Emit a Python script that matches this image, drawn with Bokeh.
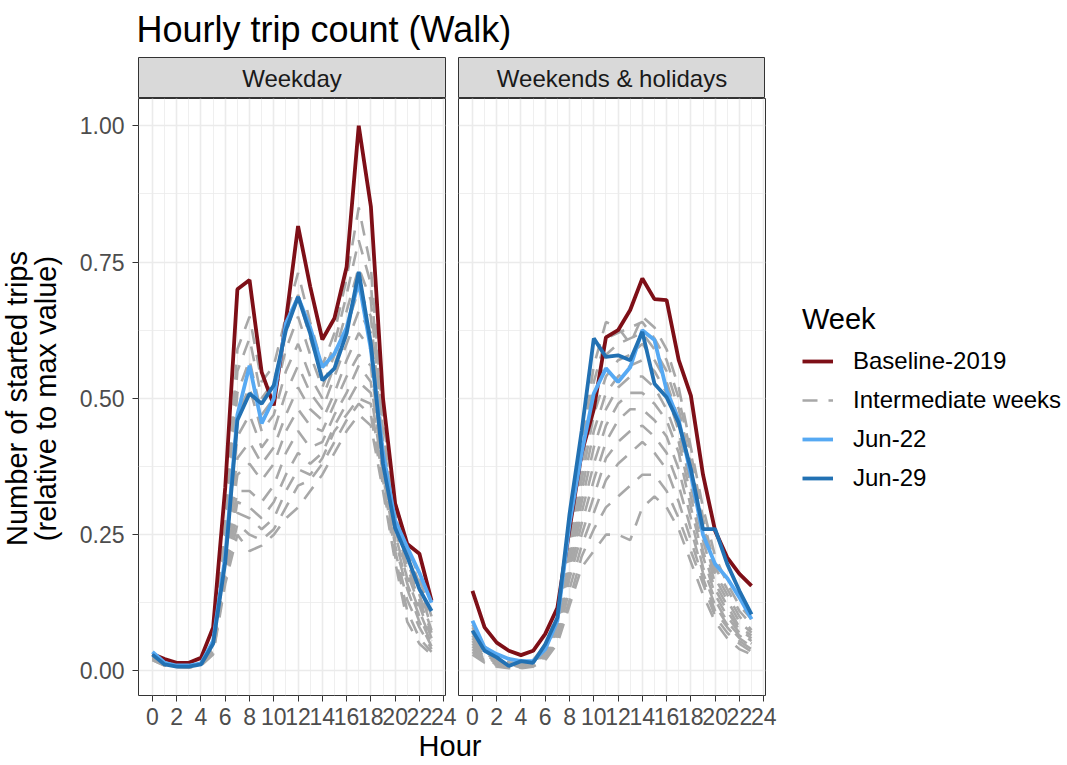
import math
from bokeh.plotting import figure
from bokeh.models import Range1d, FixedTicker, NumeralTickFormatter, Legend, LegendItem
from bokeh.layouts import row, column
from bokeh.embed import file_html
from bokeh.resources import INLINE
from bokeh.core.properties import value

# ---------------- data ----------------
HOURS = list(range(24))
PANELS = ["Weekday", "Weekends & holidays"]
TITLE = "Hourly trip count (Walk)"
X_LABEL = "Hour"
Y_LABEL = "Number of started trips\n(relative to max value)"
LEGEND_TITLE = "Week"
SERIES = ["Baseline-2019", "Intermediate weeks", "Jun-22", "Jun-29"]
X_TICKS = list(range(0, 25, 2))
X_MINOR = list(range(1, 24, 2))
Y_TICKS = [0.0, 0.25, 0.5, 0.75, 1.0]
Y_MINOR = [0.125, 0.375, 0.625, 0.875]

weekday_baseline = [0.031, 0.022, 0.015, 0.015, 0.024, 0.080, 0.337, 0.700, 0.717, 0.548, 0.487, 0.643,
                    0.816, 0.705, 0.608, 0.647, 0.741, 1.000, 0.852, 0.500, 0.307, 0.233, 0.215, 0.129]
weekday_jun22 = [0.035, 0.015, 0.010, 0.010, 0.014, 0.055, 0.210, 0.470, 0.560, 0.454, 0.500, 0.638,
                 0.686, 0.630, 0.557, 0.582, 0.630, 0.715, 0.590, 0.400, 0.276, 0.227, 0.180, 0.125]
weekday_jun29 = [0.030, 0.012, 0.008, 0.008, 0.012, 0.050, 0.200, 0.460, 0.509, 0.490, 0.524, 0.625,
                 0.686, 0.619, 0.533, 0.555, 0.619, 0.732, 0.600, 0.380, 0.262, 0.210, 0.150, 0.110]
weekday_intermediate = [
    [0.020, 0.010, 0.007, 0.006, 0.010, 0.030, 0.160, 0.250, 0.220, 0.230, 0.250, 0.280, 0.300, 0.330, 0.360, 0.400, 0.440, 0.470, 0.450, 0.330, 0.200, 0.090, 0.050, 0.030],
    [0.020, 0.010, 0.008, 0.007, 0.011, 0.032, 0.170, 0.270, 0.250, 0.240, 0.260, 0.300, 0.340, 0.350, 0.380, 0.420, 0.460, 0.490, 0.470, 0.340, 0.210, 0.110, 0.060, 0.035],
    [0.022, 0.011, 0.008, 0.007, 0.012, 0.035, 0.180, 0.290, 0.280, 0.260, 0.280, 0.330, 0.370, 0.360, 0.390, 0.440, 0.470, 0.500, 0.490, 0.350, 0.220, 0.130, 0.080, 0.040],
    [0.022, 0.012, 0.009, 0.008, 0.012, 0.036, 0.190, 0.310, 0.300, 0.280, 0.310, 0.360, 0.400, 0.380, 0.400, 0.450, 0.490, 0.530, 0.510, 0.360, 0.230, 0.150, 0.090, 0.045],
    [0.024, 0.012, 0.009, 0.008, 0.013, 0.038, 0.200, 0.330, 0.330, 0.310, 0.340, 0.400, 0.440, 0.410, 0.420, 0.470, 0.510, 0.560, 0.530, 0.370, 0.240, 0.160, 0.100, 0.050],
    [0.025, 0.013, 0.010, 0.009, 0.014, 0.040, 0.210, 0.360, 0.380, 0.350, 0.380, 0.440, 0.480, 0.450, 0.440, 0.490, 0.540, 0.580, 0.560, 0.380, 0.250, 0.170, 0.110, 0.055],
    [0.026, 0.014, 0.010, 0.009, 0.014, 0.042, 0.220, 0.390, 0.420, 0.380, 0.410, 0.470, 0.520, 0.480, 0.460, 0.510, 0.570, 0.620, 0.590, 0.390, 0.260, 0.180, 0.120, 0.060],
    [0.027, 0.014, 0.011, 0.010, 0.015, 0.044, 0.230, 0.430, 0.470, 0.410, 0.440, 0.510, 0.560, 0.510, 0.480, 0.540, 0.600, 0.660, 0.620, 0.400, 0.270, 0.190, 0.130, 0.070],
    [0.028, 0.015, 0.011, 0.010, 0.016, 0.046, 0.240, 0.470, 0.520, 0.440, 0.470, 0.550, 0.600, 0.540, 0.500, 0.560, 0.630, 0.700, 0.650, 0.410, 0.280, 0.200, 0.140, 0.075],
    [0.029, 0.015, 0.012, 0.010, 0.016, 0.048, 0.250, 0.510, 0.570, 0.470, 0.500, 0.590, 0.650, 0.580, 0.520, 0.580, 0.660, 0.740, 0.680, 0.420, 0.290, 0.210, 0.150, 0.080],
    [0.030, 0.016, 0.012, 0.011, 0.017, 0.050, 0.260, 0.550, 0.610, 0.500, 0.530, 0.620, 0.690, 0.610, 0.540, 0.600, 0.690, 0.790, 0.710, 0.440, 0.300, 0.220, 0.160, 0.090],
    [0.031, 0.016, 0.013, 0.011, 0.018, 0.052, 0.270, 0.590, 0.650, 0.530, 0.560, 0.650, 0.730, 0.640, 0.560, 0.620, 0.720, 0.850, 0.740, 0.460, 0.310, 0.230, 0.170, 0.100],
]

weekend_baseline = [0.147, 0.080, 0.052, 0.037, 0.029, 0.037, 0.068, 0.116, 0.260, 0.400, 0.480, 0.612,
                    0.625, 0.662, 0.720, 0.682, 0.680, 0.570, 0.505, 0.360, 0.257, 0.208, 0.178, 0.156]
weekend_jun22 = [0.092, 0.043, 0.031, 0.022, 0.018, 0.018, 0.040, 0.092, 0.270, 0.400, 0.509, 0.555,
                 0.530, 0.557, 0.625, 0.607, 0.515, 0.460, 0.360, 0.250, 0.196, 0.170, 0.135, 0.095]
weekend_jun29 = [0.074, 0.037, 0.025, 0.009, 0.018, 0.015, 0.049, 0.098, 0.288, 0.440, 0.610, 0.576,
                 0.579, 0.570, 0.622, 0.527, 0.502, 0.455, 0.370, 0.260, 0.260, 0.196, 0.147, 0.104]
weekend_intermediate = [
    [0.030, 0.015, 0.008, 0.005, 0.005, 0.008, 0.020, 0.050, 0.120, 0.190, 0.220, 0.250, 0.250, 0.240, 0.300, 0.320, 0.300, 0.260, 0.200, 0.140, 0.090, 0.060, 0.040, 0.030],
    [0.035, 0.018, 0.010, 0.006, 0.006, 0.009, 0.022, 0.055, 0.130, 0.210, 0.260, 0.300, 0.320, 0.340, 0.360, 0.360, 0.330, 0.280, 0.220, 0.160, 0.100, 0.070, 0.050, 0.035],
    [0.040, 0.020, 0.012, 0.007, 0.006, 0.010, 0.025, 0.060, 0.150, 0.230, 0.290, 0.350, 0.380, 0.400, 0.420, 0.400, 0.370, 0.310, 0.240, 0.170, 0.110, 0.080, 0.055, 0.040],
    [0.045, 0.022, 0.013, 0.008, 0.007, 0.011, 0.027, 0.065, 0.170, 0.250, 0.320, 0.390, 0.420, 0.440, 0.450, 0.430, 0.400, 0.340, 0.260, 0.180, 0.120, 0.085, 0.060, 0.045],
    [0.050, 0.025, 0.015, 0.009, 0.008, 0.012, 0.030, 0.070, 0.180, 0.270, 0.350, 0.420, 0.460, 0.480, 0.480, 0.460, 0.430, 0.370, 0.280, 0.190, 0.130, 0.090, 0.065, 0.050],
    [0.055, 0.028, 0.016, 0.010, 0.008, 0.013, 0.032, 0.075, 0.190, 0.290, 0.380, 0.450, 0.490, 0.510, 0.510, 0.490, 0.460, 0.400, 0.300, 0.210, 0.140, 0.100, 0.070, 0.055],
    [0.060, 0.030, 0.018, 0.011, 0.009, 0.014, 0.035, 0.080, 0.200, 0.310, 0.410, 0.480, 0.520, 0.540, 0.540, 0.520, 0.480, 0.420, 0.320, 0.220, 0.150, 0.110, 0.075, 0.060],
    [0.065, 0.033, 0.020, 0.012, 0.010, 0.015, 0.037, 0.085, 0.210, 0.330, 0.440, 0.510, 0.540, 0.560, 0.570, 0.550, 0.510, 0.440, 0.340, 0.240, 0.160, 0.120, 0.080, 0.065],
    [0.070, 0.036, 0.022, 0.013, 0.011, 0.016, 0.040, 0.090, 0.220, 0.350, 0.470, 0.540, 0.570, 0.580, 0.600, 0.570, 0.530, 0.460, 0.360, 0.250, 0.170, 0.130, 0.090, 0.070],
    [0.075, 0.040, 0.024, 0.014, 0.012, 0.017, 0.042, 0.095, 0.230, 0.370, 0.500, 0.580, 0.600, 0.610, 0.620, 0.590, 0.550, 0.480, 0.380, 0.270, 0.180, 0.140, 0.100, 0.075],
    [0.080, 0.042, 0.026, 0.015, 0.013, 0.018, 0.045, 0.100, 0.250, 0.390, 0.530, 0.610, 0.620, 0.630, 0.640, 0.610, 0.570, 0.500, 0.400, 0.280, 0.190, 0.150, 0.110, 0.085],
    [0.085, 0.045, 0.028, 0.016, 0.014, 0.020, 0.048, 0.105, 0.270, 0.410, 0.560, 0.640, 0.630, 0.600, 0.650, 0.630, 0.590, 0.520, 0.410, 0.300, 0.210, 0.160, 0.120, 0.095],
]

# ---------------- style ----------------
FONT = "Liberation Sans"
RED = "#7E0F17"
LIGHT = "#56A9F3"
DARK = "#2271B3"
GRAY = "#A8A8A8"
BORDER = "#333333"
GRID = "#EBEBEB"

FRAME_W = 307
PANEL_H = 597
STRIP_H = 41
TITLE_H = 57
XLAB_H = 34
YLAB_W = 76
AXIS_W = 60      # room for the y tick labels
AXIS_H = 34      # room for the x tick labels
LEFT = YLAB_W + AXIS_W
GAP_R = 12       # right border of left panel (room for the "24" tick label)
GAP_L = 1        # left border of right panel

KW = dict(output_backend="svg", toolbar_location=None)


def blank_fig(width, height, left):
    f = figure(frame_width=width, frame_height=height, x_range=Range1d(0, width), y_range=Range1d(0, height),
               x_axis_location=None, y_axis_location=None, min_border_left=left, min_border_right=0,
               min_border_top=0, min_border_bottom=0, **KW)
    f.outline_line_color = None
    f.background_fill_color = "white"
    f.border_fill_color = "white"
    f.grid.visible = False
    return f


def strip_fig(label, left, right):
    s = figure(frame_width=FRAME_W, frame_height=STRIP_H, x_range=Range1d(0, 1), y_range=Range1d(0, 1),
               x_axis_location=None, y_axis_location=None,
               min_border_left=left, min_border_right=right, min_border_top=0, min_border_bottom=0, **KW)
    s.background_fill_color = "#D9D9D9"
    s.border_fill_color = "white"
    s.outline_line_color = BORDER
    s.outline_line_width = 1
    s.grid.visible = False
    s.text(x=[0.5], y=[0.5], text=[label], text_align="center", text_baseline="middle",
           text_font=value(FONT), text_font_size="24px", text_color="#1A1A1A")
    return s


def panel_fig(show_y, base, intermediate, j22, j29):
    p = figure(frame_width=FRAME_W, frame_height=PANEL_H, x_range=Range1d(-1.15, 24.15),
               y_range=Range1d(-0.045, 1.05),
               min_border_left=AXIS_W if show_y else GAP_L, min_border_right=GAP_R if show_y else 0,
               min_border_top=0, min_border_bottom=AXIS_H, **KW)
    p.background_fill_color = "white"
    p.border_fill_color = "white"
    p.outline_line_color = BORDER
    p.outline_line_width = 1
    xt = FixedTicker(ticks=X_TICKS, minor_ticks=X_MINOR)
    yt = FixedTicker(ticks=Y_TICKS, minor_ticks=Y_MINOR)
    p.xaxis.ticker = xt
    p.yaxis.ticker = yt
    p.xgrid.ticker = xt
    p.ygrid.ticker = yt
    for g in (p.xgrid[0], p.ygrid[0]):
        g.grid_line_color = GRID
        g.grid_line_width = 1.6
        g.minor_grid_line_color = GRID
        g.minor_grid_line_width = 0.8
    for ax in (p.xaxis[0], p.yaxis[0]):
        ax.axis_line_color = None
        ax.major_tick_line_color = BORDER
        ax.major_tick_line_width = 1
        ax.major_tick_out = 6
        ax.major_tick_in = 0
        ax.minor_tick_line_color = None
        ax.major_label_text_font = FONT
        ax.major_label_text_font_size = "23px"
        ax.major_label_text_color = "#4D4D4D"
    p.xaxis.major_label_standoff = 6
    p.yaxis.major_label_standoff = 8
    p.yaxis.formatter = NumeralTickFormatter(format="0.00")
    if not show_y:
        p.yaxis.visible = False

    r_int = p.multi_line(xs=[HOURS] * len(intermediate), ys=intermediate, line_color=GRAY,
                         line_width=2.6, line_dash="15 11", line_cap="butt")
    r_base = p.line(HOURS, base, line_color=RED, line_width=3.8)
    r_22 = p.line(HOURS, j22, line_color=LIGHT, line_width=3.8)
    r_29 = p.line(HOURS, j29, line_color=DARK, line_width=3.8)
    return p, [r_base, r_int, r_22, r_29]


# title
tf = blank_fig(900, TITLE_H, LEFT)
tf.text(x=[0], y=[TITLE_H - 29], text=[TITLE], text_align="left", text_baseline="middle",
        text_font=value(FONT), text_font_size="36px", text_color="black")

# y-axis title (two lines, rotated)
yl = blank_fig(YLAB_W, STRIP_H + PANEL_H, 0)
yl.text(x=[31], y=[STRIP_H + PANEL_H - 341], text=[Y_LABEL], angle=math.pi / 2,
        text_align="center", text_baseline="middle", text_line_height=0.9,
        text_font=value(FONT), text_font_size="29px", text_color="black")

sA = strip_fig(PANELS[0], AXIS_W, GAP_R)
sC = strip_fig(PANELS[1], GAP_L, 0)
pB, _ = panel_fig(True, weekday_baseline, weekday_intermediate, weekday_jun22, weekday_jun29)
pD, rends = panel_fig(False, weekend_baseline, weekend_intermediate, weekend_jun22, weekend_jun29)

legend = Legend(items=[LegendItem(label=lab, renderers=[r]) for lab, r in zip(SERIES, rends)],
                location=(37, 202), title=LEGEND_TITLE,
                title_text_font=FONT, title_text_font_size="29px", title_text_font_style="normal",
                title_text_color="black", title_standoff=10,
                label_text_font=FONT, label_text_font_size="24px", label_text_color="black",
                glyph_width=31, glyph_height=30, label_height=30, label_standoff=20, spacing=9,
                padding=0, margin=0, border_line_color=None, background_fill_alpha=0)
pD.add_layout(legend, "right")
pD.min_border_right = 296

# x-axis title, centred under both panels
xl = blank_fig(627, XLAB_H, LEFT)
xl.text(x=[627 / 2], y=[XLAB_H - 16], text=[X_LABEL], text_align="center", text_baseline="middle",
        text_font=value(FONT), text_font_size="29px", text_color="black")

layout = column(tf, row(yl, column(sA, pB), column(sC, pD)), xl)

open("out.html", "w").write(file_html(layout, INLINE))
